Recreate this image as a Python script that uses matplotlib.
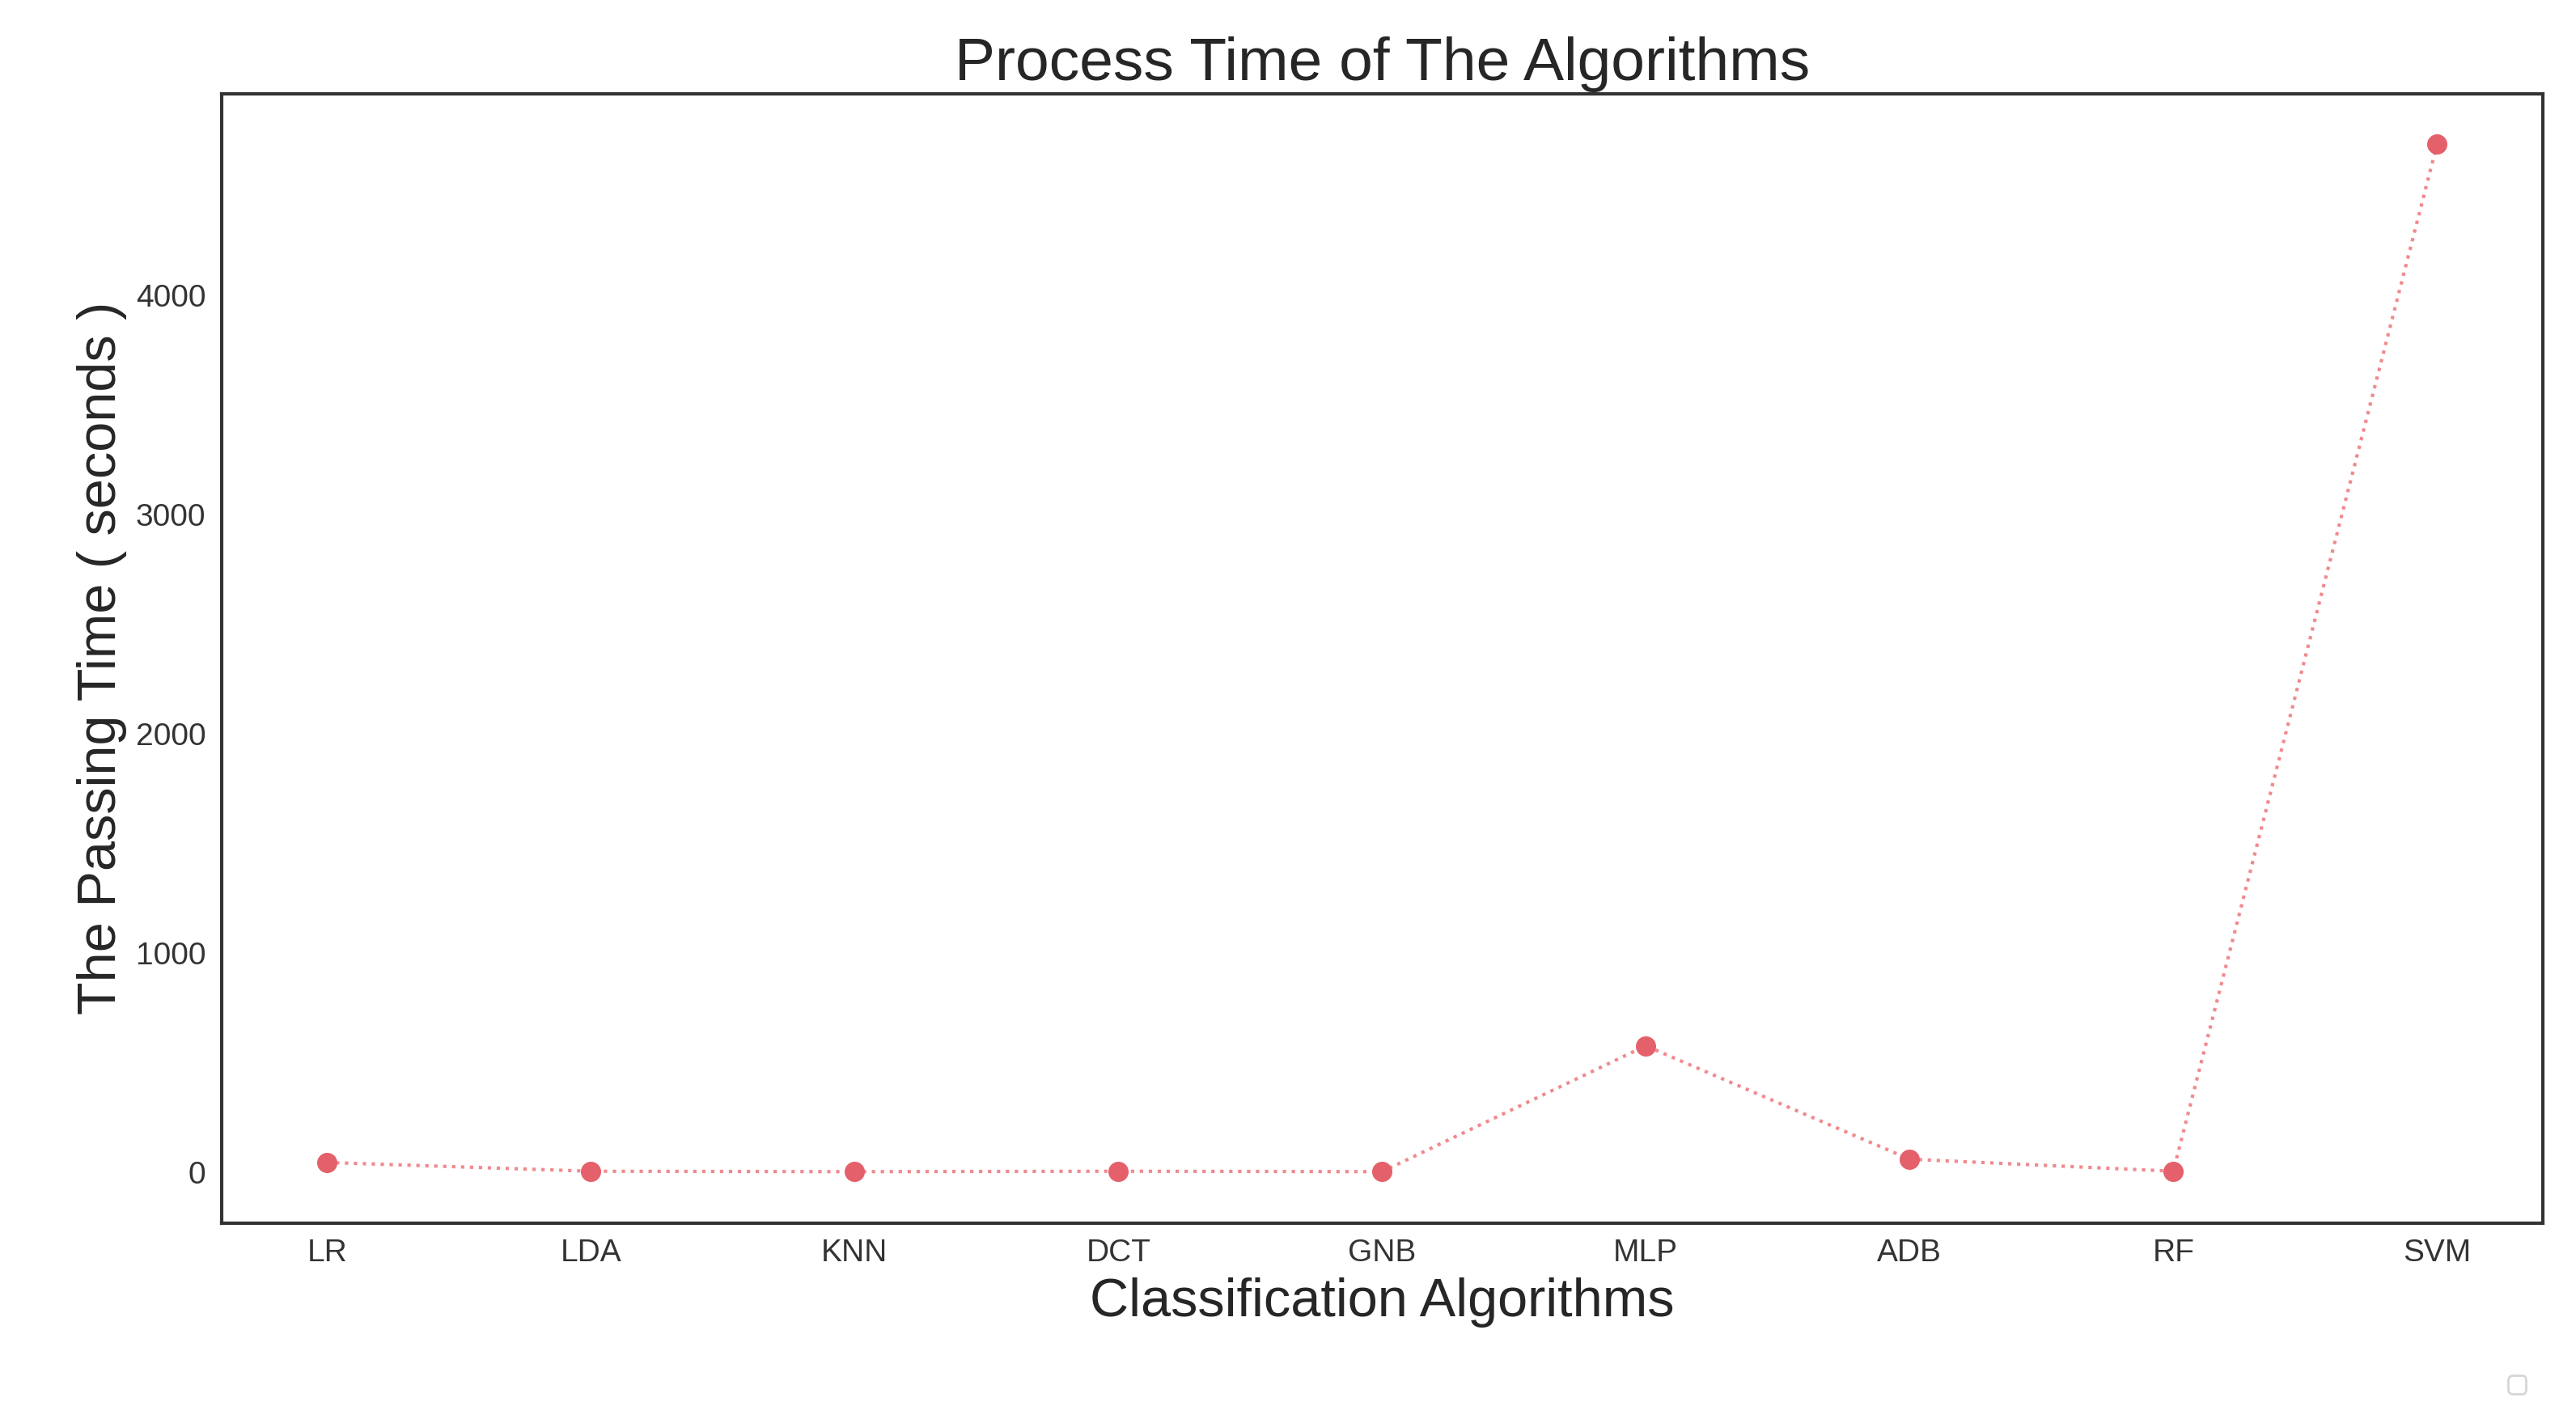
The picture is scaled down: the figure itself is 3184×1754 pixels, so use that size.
import matplotlib
matplotlib.use("Agg")
import matplotlib.pyplot as plt
import seaborn as sns

algorithms = ["LR", "LDA", "KNN", "DCT", "GNB", "MLP", "ADB", "RF", "SVM"]
times = [45, 5, 3, 5, 3, 577, 60, 5, 4690]

sns.set_style("white")
plt.rcParams['font.family'] = ['Arial', 'Liberation Sans', 'DejaVu Sans']
fig = plt.figure(figsize=(15.92, 8.77), dpi=200)
ax = fig.add_axes([0.086, 0.138, 0.901, 0.796])
ax.plot(algorithms, times, linestyle=':', color='#f08a8f', linewidth=1.5)
ax.plot(algorithms, times, linestyle='none', marker='o', color='#e4606a', markersize=8)
ax.set_ylim(-232, 4921)
ax.set_xlim(-0.4, 8.4)
ax.set_yticks([0, 1000, 2000, 3000, 4000])
for s in ax.spines.values():
    s.set_color('#333333'); s.set_linewidth(1.5)
ax.tick_params(labelsize=14, colors='#333333')
ax.set_title("Process Time of The Algorithms", fontsize=27, color='#262626')
ax.set_xlabel("Classification Algorithms", fontsize=24, color='#262626')
ax.set_ylabel("The Passing Time ( seconds )", fontsize=24, color='#262626')
leg = fig.legend(handles=[], loc='lower right', bbox_to_anchor=(0.985, 0.01), frameon=True)
fig.savefig("out.png", dpi=200)
